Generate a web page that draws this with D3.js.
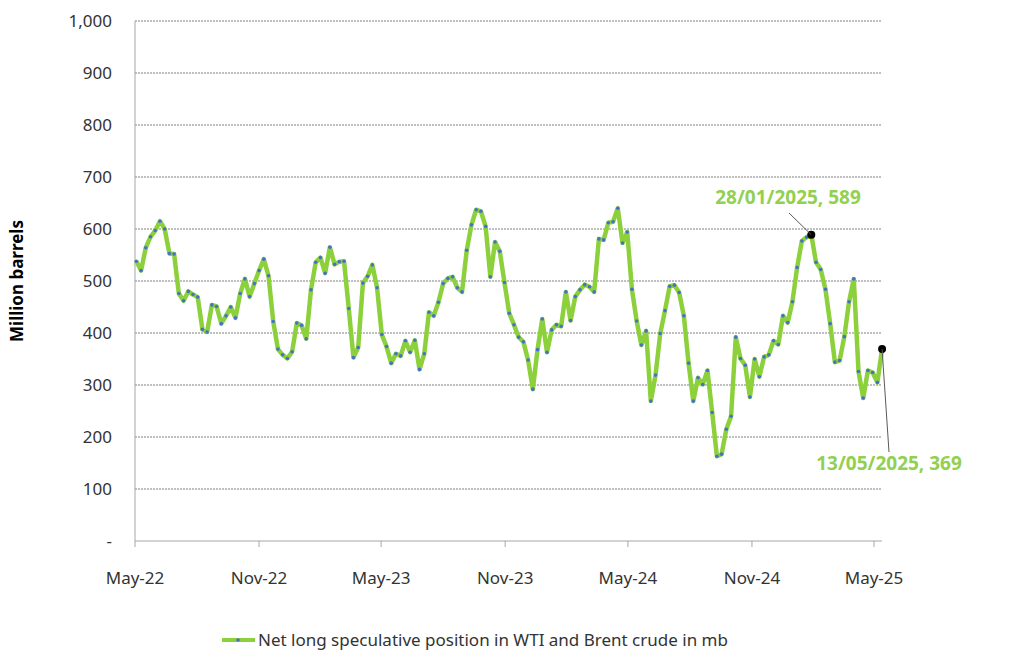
<!DOCTYPE html><html><head><meta charset="utf-8"><script src="https://cdn.jsdelivr.net/npm/d3@7"></script>
<style>body{margin:0;background:#fff}text{font-family:"Noto Sans","Open Sans",sans-serif}</style></head><body><svg id="c" width="1024" height="669"></svg>
<script>
const values=[538,520,564,585,597,615,600,553,552,476,462,480,474,469,407,402,454,451,418,433,450,429,476,504,470,495,520,542,510,422,369,358,351,364,419,415,389,483,536,545,515,565,532,537,538,447,353,372,496,509,531,487,397,374,342,
360,356,385,363,386,330,360,440,433,459,495,505,508,487,479,559,608,637,634,605,508,575,557,497,438,416,392,383,348,292,368,427,363,406,416,413,479,424,470,483,493,489,479,581,579,612,614,640,573,594,
484,423,377,404,269,319,399,443,490,492,478,433,342,269,314,301,328,247,163,167,215,240,392,351,338,277,350,316,354,358,385,378,433,420,460,526,577,584,589,536,522,484,418,344,347,393,460,504,326,275,328,324,305,369];
const lastDate=new Date(2025,4,13);
const dates=values.map((v,i)=>d3.timeWeek.offset(lastDate,i-(values.length-1)));
const yTicks=[0,100,200,300,400,500,600,700,800,900,1000];
const xTicks=[new Date(2022,4,1),new Date(2022,10,1),new Date(2023,4,1),new Date(2023,10,1),new Date(2024,4,1),new Date(2024,10,1),new Date(2025,4,1)];
const xFmt=d3.timeFormat("%b-%y");
const svg=d3.select("#c");
const x=d3.scaleTime().domain([new Date(2022,4,1),new Date(2025,4,1)]).range([135,874]);
const y=d3.scaleLinear().domain([0,1000]).range([541,21]);
yTicks.slice(1).forEach(t=>svg.append("line").attr("x1",135).attr("x2",882).attr("y1",y(t)).attr("y2",y(t)).attr("stroke","#808080").attr("stroke-width",1).attr("stroke-dasharray","2,1"));
svg.append("line").attr("x1",135).attr("x2",882).attr("y1",541).attr("y2",541).attr("stroke","#a6a6a6");
svg.append("line").attr("x1",135).attr("x2",135).attr("y1",21).attr("y2",541).attr("stroke","#a6a6a6");
svg.selectAll(".yt").data(yTicks).join("text").attr("x",112).attr("y",d=>y(d)+6).attr("text-anchor","end").attr("font-size",17).attr("fill","#333").text(d=>d===0?"-":d3.format(",")(d));
svg.selectAll(".xt").data(xTicks).join("text").attr("x",d=>x(d)).attr("y",584).attr("text-anchor","middle").attr("font-size",17).attr("fill","#333").text(xFmt);
xTicks.forEach(t=>svg.append("line").attr("x1",x(t)).attr("x2",x(t)).attr("y1",541).attr("y2",547).attr("stroke","#a6a6a6"));
svg.append("text").attr("transform","translate(23,281) rotate(-90)").attr("text-anchor","middle").attr("font-size",17).attr("font-weight","bold").attr("fill","#000").text("Million barrels");
const line=d3.line().x((d,i)=>x(dates[i])).y(d=>y(d));
svg.append("path").datum(values).attr("d",line).attr("fill","none").attr("stroke","#8cd03c").attr("stroke-width",4.5).attr("stroke-linejoin","round");
svg.selectAll(".pt").data(values).join("circle").attr("cx",(d,i)=>x(dates[i])).attr("cy",d=>y(d)).attr("r",1.8).attr("fill","#4472c4");
const iPk=values.length-1-15, iL=values.length-1;
[iPk,iL].forEach(i=>svg.append("circle").attr("cx",x(dates[i])).attr("cy",y(values[i])).attr("r",4).attr("fill","#000"));
svg.append("line").attr("x1",789).attr("y1",213).attr("x2",x(dates[iPk])).attr("y2",y(values[iPk])).attr("stroke","#595959");
svg.append("line").attr("x1",x(dates[iL])).attr("y1",y(values[iL])).attr("x2",889).attr("y2",452).attr("stroke","#595959");
svg.append("text").attr("x",788).attr("y",204).attr("text-anchor","middle").attr("font-size",19).attr("font-weight","bold").attr("fill","#92d050").text("28/01/2025, 589");
svg.append("text").attr("x",889).attr("y",470).attr("text-anchor","middle").attr("font-size",19).attr("font-weight","bold").attr("fill","#92d050").text("13/05/2025, 369");
svg.append("line").attr("x1",222).attr("x2",255).attr("y1",640).attr("y2",640).attr("stroke","#8cd03c").attr("stroke-width",4);
svg.append("circle").attr("cx",238).attr("cy",640).attr("r",1.8).attr("fill","#4472c4");
svg.append("text").attr("x",258).attr("y",646).attr("font-size",17).attr("fill","#333").text("Net long speculative position in WTI and Brent crude in mb");
</script></body></html>
